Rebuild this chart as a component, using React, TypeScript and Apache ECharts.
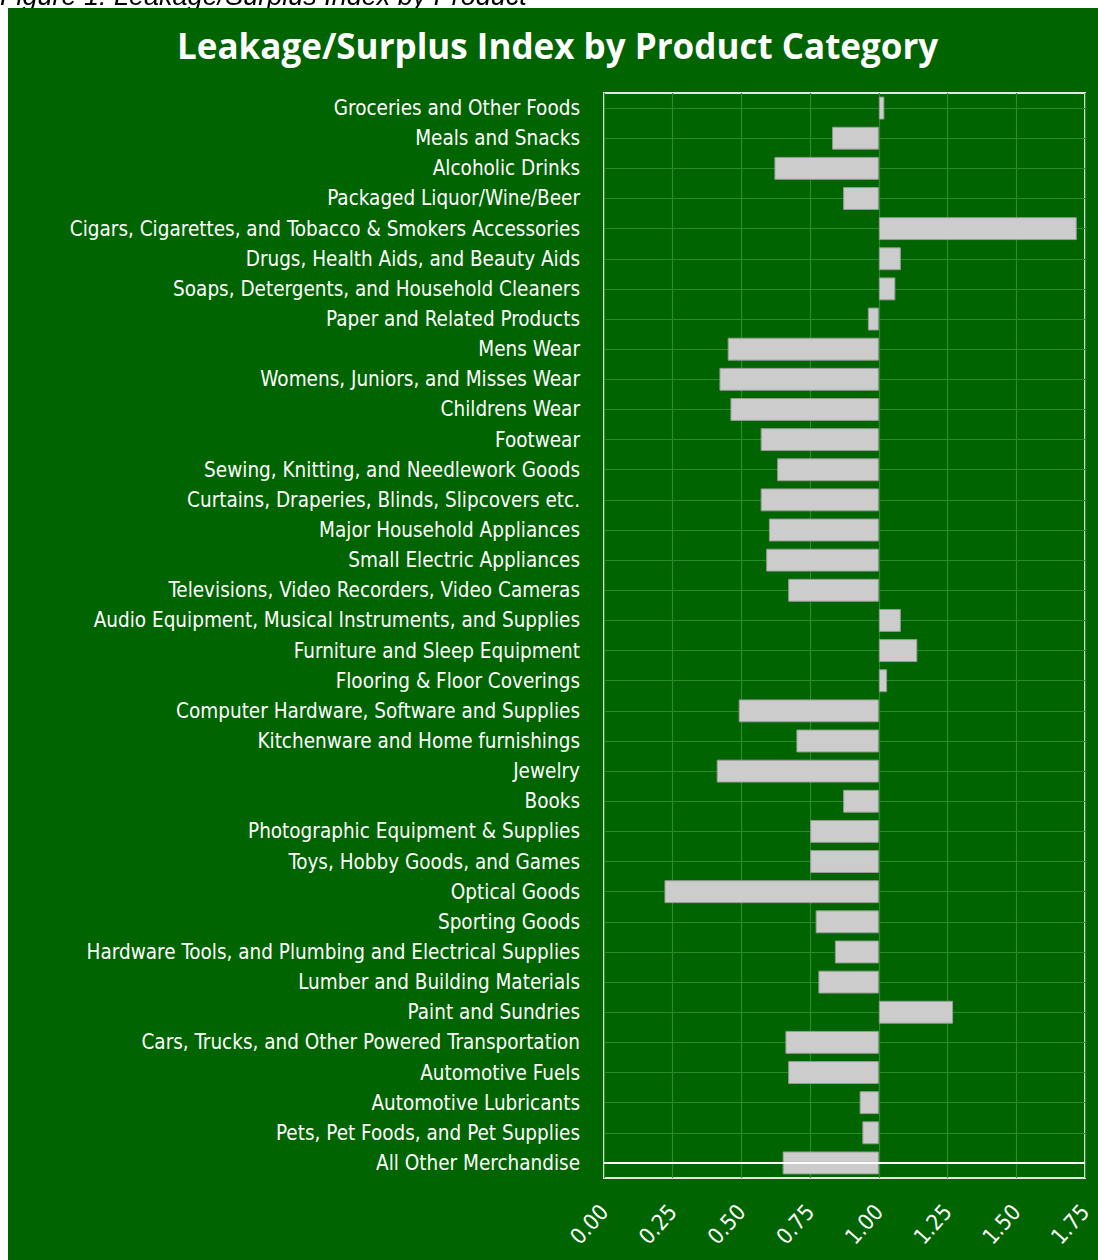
import React, { useEffect, useRef } from "react";
import * as echarts from "echarts";

const categories = [
  "Groceries and Other Foods",
  "Meals and Snacks",
  "Alcoholic Drinks",
  "Packaged Liquor/Wine/Beer",
  "Cigars, Cigarettes, and Tobacco & Smokers Accessories",
  "Drugs, Health Aids, and Beauty Aids",
  "Soaps, Detergents, and Household Cleaners",
  "Paper and Related Products",
  "Mens Wear",
  "Womens, Juniors, and Misses Wear",
  "Childrens Wear",
  "Footwear",
  "Sewing, Knitting, and Needlework Goods",
  "Curtains, Draperies, Blinds, Slipcovers etc.",
  "Major Household Appliances",
  "Small Electric Appliances",
  "Televisions, Video Recorders, Video Cameras",
  "Audio Equipment, Musical Instruments, and Supplies",
  "Furniture and Sleep Equipment",
  "Flooring & Floor Coverings",
  "Computer Hardware, Software and Supplies",
  "Kitchenware and Home furnishings",
  "Jewelry",
  "Books",
  "Photographic Equipment & Supplies",
  "Toys, Hobby Goods, and Games",
  "Optical Goods",
  "Sporting Goods",
  "Hardware Tools, and Plumbing and Electrical Supplies",
  "Lumber and Building Materials",
  "Paint and Sundries",
  "Cars, Trucks, and Other Powered Transportation",
  "Automotive Fuels",
  "Automotive Lubricants",
  "Pets, Pet Foods, and Pet Supplies",
  "All Other Merchandise",
];

const indexValues = [
  1.02, 0.83, 0.62, 0.87, 1.72, 1.08, 1.06, 0.96, 0.45, 0.42, 0.46, 0.57,
  0.63, 0.57, 0.6, 0.59, 0.67, 1.08, 1.14, 1.03, 0.49, 0.7, 0.41, 0.87,
  0.75, 0.75, 0.22, 0.77, 0.84, 0.78, 1.27, 0.66, 0.67, 0.93, 0.94, 0.65,
];

const xTicks = { min: 0, max: 1.75, interval: 0.25 };
const baseline = 1;
const titleText = "Leakage/Surplus Index by Product Category";
const captionText = "Figure 1: Leakage/Surplus Index by Product";

const labelFont = "'Liberation Sans Narrow', 'DejaVu Sans Condensed', 'Roboto', sans-serif";

export default function App() {
  const ref = useRef<HTMLDivElement>(null);

  useEffect(() => {
    document.documentElement.style.overflow = "hidden";
    const chart = echarts.init(ref.current!, undefined, { renderer: "svg" });
    const offsets = indexValues.map((v) => Math.min(v, baseline));
    const spans = indexValues.map((v) => Math.abs(v - baseline));
    chart.setOption({
      animation: false,
      backgroundColor: "#006400",
      title: {
        text: titleText,
        left: 164,
        top: 15,
        textStyle: {
          color: "#ffffff",
          fontFamily: "'Open Sans', 'DejaVu Sans', sans-serif",
          fontWeight: "bold",
          fontSize: 35,
        },
      },
      grid: {
        left: 596,
        right: 13,
        top: 85,
        bottom: 82,
        show: true,
        borderColor: "#e6e6e6",
        borderWidth: 2,
        backgroundColor: "transparent",
      },
      xAxis: {
        type: "value",
        min: xTicks.min,
        max: xTicks.max,
        interval: xTicks.interval,
        axisLine: { show: false },
        axisTick: { show: false },
        splitLine: { show: true, lineStyle: { color: "#2b8a2b", width: 1.2 } },
        axisLabel: {
          color: "#ffffff",
          rotate: 48,
          margin: 30,
          fontSize: 22,
          fontFamily: labelFont,
          formatter: (v: number) => v.toFixed(2),
        },
      },
      yAxis: {
        type: "category",
        inverse: true,
        data: categories,
        axisLine: { show: false },
        axisTick: { show: false },
        splitLine: {
          show: true,
          alignWithLabel: true,
          lineStyle: { color: "#2b8a2b", width: 1.2 },
        },
        axisLabel: {
          color: "#ffffff",
          margin: 24,
          fontSize: 20.5,
          fontFamily: labelFont,
        },
      },
      series: [
        {
          type: "bar",
          stack: "idx",
          data: offsets,
          barWidth: "76%",
          silent: true,
          itemStyle: { color: "transparent" },
          markLine: {
            silent: true,
            symbol: "none",
            label: { show: false },
            lineStyle: { color: "#ffffff", width: 2, type: "solid" },
            data: [{ yAxis: categories[categories.length - 1] }],
          },
        },
        {
          type: "bar",
          stack: "idx",
          data: spans,
          barWidth: "76%",
          itemStyle: { color: "#cccccc", borderColor: "#9a9a9a", borderWidth: 1 },
        },
      ],
    });
    return () => chart.dispose();
  }, []);

  return (
    <div>
      <div
        style={{
          position: "fixed",
          left: 0,
          top: -17,
          fontFamily: "'Liberation Sans', Arial, sans-serif",
          fontStyle: "italic",
          fontSize: 27,
          lineHeight: "27px",
          color: "#000",
          whiteSpace: "nowrap",
        }}
      >
        {captionText}
      </div>
      <div
        ref={ref}
        style={{ position: "fixed", left: 8, top: 8, width: 1090, height: 1252 }}
      />
    </div>
  );
}
